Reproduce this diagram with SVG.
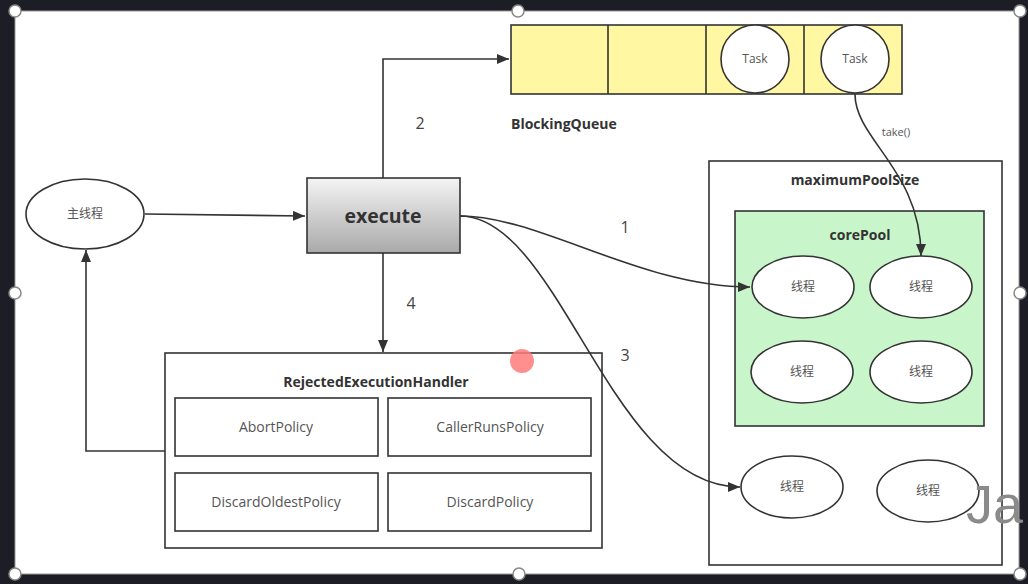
<svg xmlns="http://www.w3.org/2000/svg" width="1028" height="584" viewBox="0 0 1028 584">
<defs>
<linearGradient id="execGrad" x1="0" y1="0" x2="0" y2="1">
<stop offset="0" stop-color="#f4f4f4"/>
<stop offset="1" stop-color="#a9a9a9"/>
</linearGradient>
<marker id="arr" viewBox="0 0 12 10" refX="12" refY="5" markerWidth="12" markerHeight="10" markerUnits="userSpaceOnUse" orient="auto">
<path d="M0,0 L12,5 L0,10 z" fill="#333"/>
</marker>
<style>
.ln{fill:none;stroke:#333;stroke-width:1.6}
.box{stroke:#333;stroke-width:1.6}
.bold{font-family:"Open Sans","Noto Sans",sans-serif;font-weight:bold;fill:#333}
.reg{font-family:"Open Sans","Noto Sans",sans-serif;fill:#555}
.cjk{font-family:"Noto Sans CJK SC",sans-serif;fill:#555;font-size:12px}
.num{font-family:"Open Sans","Noto Sans",sans-serif;fill:#444;font-size:16px}
.handle{fill:#fff;stroke:#888;stroke-width:1.5}
</style>
</defs>
<rect x="0" y="0" width="1028" height="584" fill="#1d1e25"/>
<rect x="15" y="11" width="1004" height="563" fill="#ffffff" stroke="#999" stroke-width="1"/>

<g id="main-thread">
<ellipse cx="85" cy="214" rx="59" ry="35" fill="#fff" class="box"/>
<text class="cjk" x="85" y="218" text-anchor="middle">主线程</text>
</g>

<g id="execute">
<rect x="307" y="178" width="153" height="75" fill="url(#execGrad)" class="box"/>
<text class="bold" x="383" y="223" text-anchor="middle" font-size="19.5">execute</text>
</g>

<g id="blocking-queue">
<rect x="511" y="25" width="391" height="69" fill="#fff7a2" class="box"/>
<line class="ln" x1="608" y1="25" x2="608" y2="94"/>
<line class="ln" x1="706" y1="25" x2="706" y2="94"/>
<line class="ln" x1="804" y1="25" x2="804" y2="94"/>
<text class="bold" x="511" y="129" font-size="14">BlockingQueue</text>
</g>

<g id="task1">
<circle cx="755" cy="59" r="34" fill="#fff" class="box"/>
<text class="reg" x="755" y="63" text-anchor="middle" font-size="12">Task</text>
</g>
<g id="task2">
<circle cx="855" cy="59" r="34" fill="#fff" class="box"/>
<text class="reg" x="855" y="63" text-anchor="middle" font-size="12">Task</text>
</g>

<g id="maximum-pool">
<rect x="709" y="161" width="293" height="404" fill="#fff" class="box"/>
<text class="bold" x="855" y="185" text-anchor="middle" font-size="14">maximumPoolSize</text>
</g>

<g id="core-pool">
<rect x="735" y="211" width="249" height="215" fill="#c9f5cb" class="box"/>
<text class="bold" x="860" y="240" text-anchor="middle" font-size="14">corePool</text>
</g>

<g id="core-thread-1">
<ellipse cx="803" cy="287" rx="51" ry="31" fill="#fff" class="box"/>
<text class="cjk" x="803" y="291" text-anchor="middle">线程</text>
</g>
<g id="core-thread-2">
<ellipse cx="921" cy="287" rx="51" ry="31" fill="#fff" class="box"/>
<text class="cjk" x="921" y="291" text-anchor="middle">线程</text>
</g>
<g id="core-thread-3">
<ellipse cx="802" cy="372" rx="51" ry="31" fill="#fff" class="box"/>
<text class="cjk" x="802" y="376" text-anchor="middle">线程</text>
</g>
<g id="core-thread-4">
<ellipse cx="921" cy="372" rx="51" ry="31" fill="#fff" class="box"/>
<text class="cjk" x="921" y="376" text-anchor="middle">线程</text>
</g>
<g id="extra-thread-1">
<ellipse cx="792" cy="487" rx="51" ry="31" fill="#fff" class="box"/>
<text class="cjk" x="792" y="491" text-anchor="middle">线程</text>
</g>
<g id="extra-thread-2">
<ellipse cx="928" cy="491" rx="51" ry="31" fill="#fff" class="box"/>
<text class="cjk" x="928" y="495" text-anchor="middle">线程</text>
</g>

<g id="rejected-handler">
<rect x="165" y="353" width="437" height="195" fill="#fff" class="box"/>
<text class="bold" x="376" y="387" text-anchor="middle" font-size="14">RejectedExecutionHandler</text>
</g>
<g id="abort-policy">
<rect x="175" y="398" width="203" height="58" fill="#fff" class="box"/>
<text class="reg" x="276" y="432" text-anchor="middle" font-size="14">AbortPolicy</text>
</g>
<g id="caller-runs-policy">
<rect x="388" y="398" width="203" height="58" fill="#fff" class="box"/>
<text class="reg" x="490" y="432" text-anchor="middle" font-size="14">CallerRunsPolicy</text>
</g>
<g id="discard-oldest-policy">
<rect x="175" y="473" width="203" height="58" fill="#fff" class="box"/>
<text class="reg" x="276" y="507" text-anchor="middle" font-size="14">DiscardOldestPolicy</text>
</g>
<g id="discard-policy">
<rect x="388" y="473" width="203" height="58" fill="#fff" class="box"/>
<text class="reg" x="490" y="507" text-anchor="middle" font-size="14">DiscardPolicy</text>
</g>

<g id="connectors">
<path class="ln" d="M145,214 L305,216" marker-end="url(#arr)"/>
<path class="ln" d="M383,178 V59 H509" marker-end="url(#arr)"/>
<path class="ln" d="M383,253 V352" marker-end="url(#arr)"/>
<path class="ln" d="M165,451 H86 V250" marker-end="url(#arr)"/>
<path class="ln" d="M460,216 C540,216 640,287 750,287" marker-end="url(#arr)"/>
<path class="ln" d="M460,216 C560,216 610,487 740,487" marker-end="url(#arr)"/>
<path class="ln" d="M855,94 C855,140 921,170 921,256" marker-end="url(#arr)"/>
<text class="num" x="420" y="129" text-anchor="middle">2</text>
<text class="num" x="625" y="233" text-anchor="middle">1</text>
<text class="num" x="625" y="361" text-anchor="middle">3</text>
<text class="num" x="411" y="309" text-anchor="middle">4</text>
<text class="reg" x="896" y="136" text-anchor="middle" font-size="11">take()</text>
</g>

<circle cx="522" cy="361" r="12" fill="#ff7b7b" opacity="0.85"/>
<text x="966" y="523" font-family="Liberation Sans,sans-serif" font-size="54" fill="#8a8a8a">Ja</text>

<g id="handles">
<circle class="handle" cx="15" cy="11" r="6"/>
<circle class="handle" cx="518" cy="11" r="6"/>
<circle class="handle" cx="1020" cy="11" r="6"/>
<circle class="handle" cx="15" cy="293" r="6"/>
<circle class="handle" cx="1020" cy="293" r="6"/>
<circle class="handle" cx="15" cy="574" r="6"/>
<circle class="handle" cx="519" cy="574" r="6"/>
<circle class="handle" cx="1020" cy="574" r="6"/>
</g>
</svg>
